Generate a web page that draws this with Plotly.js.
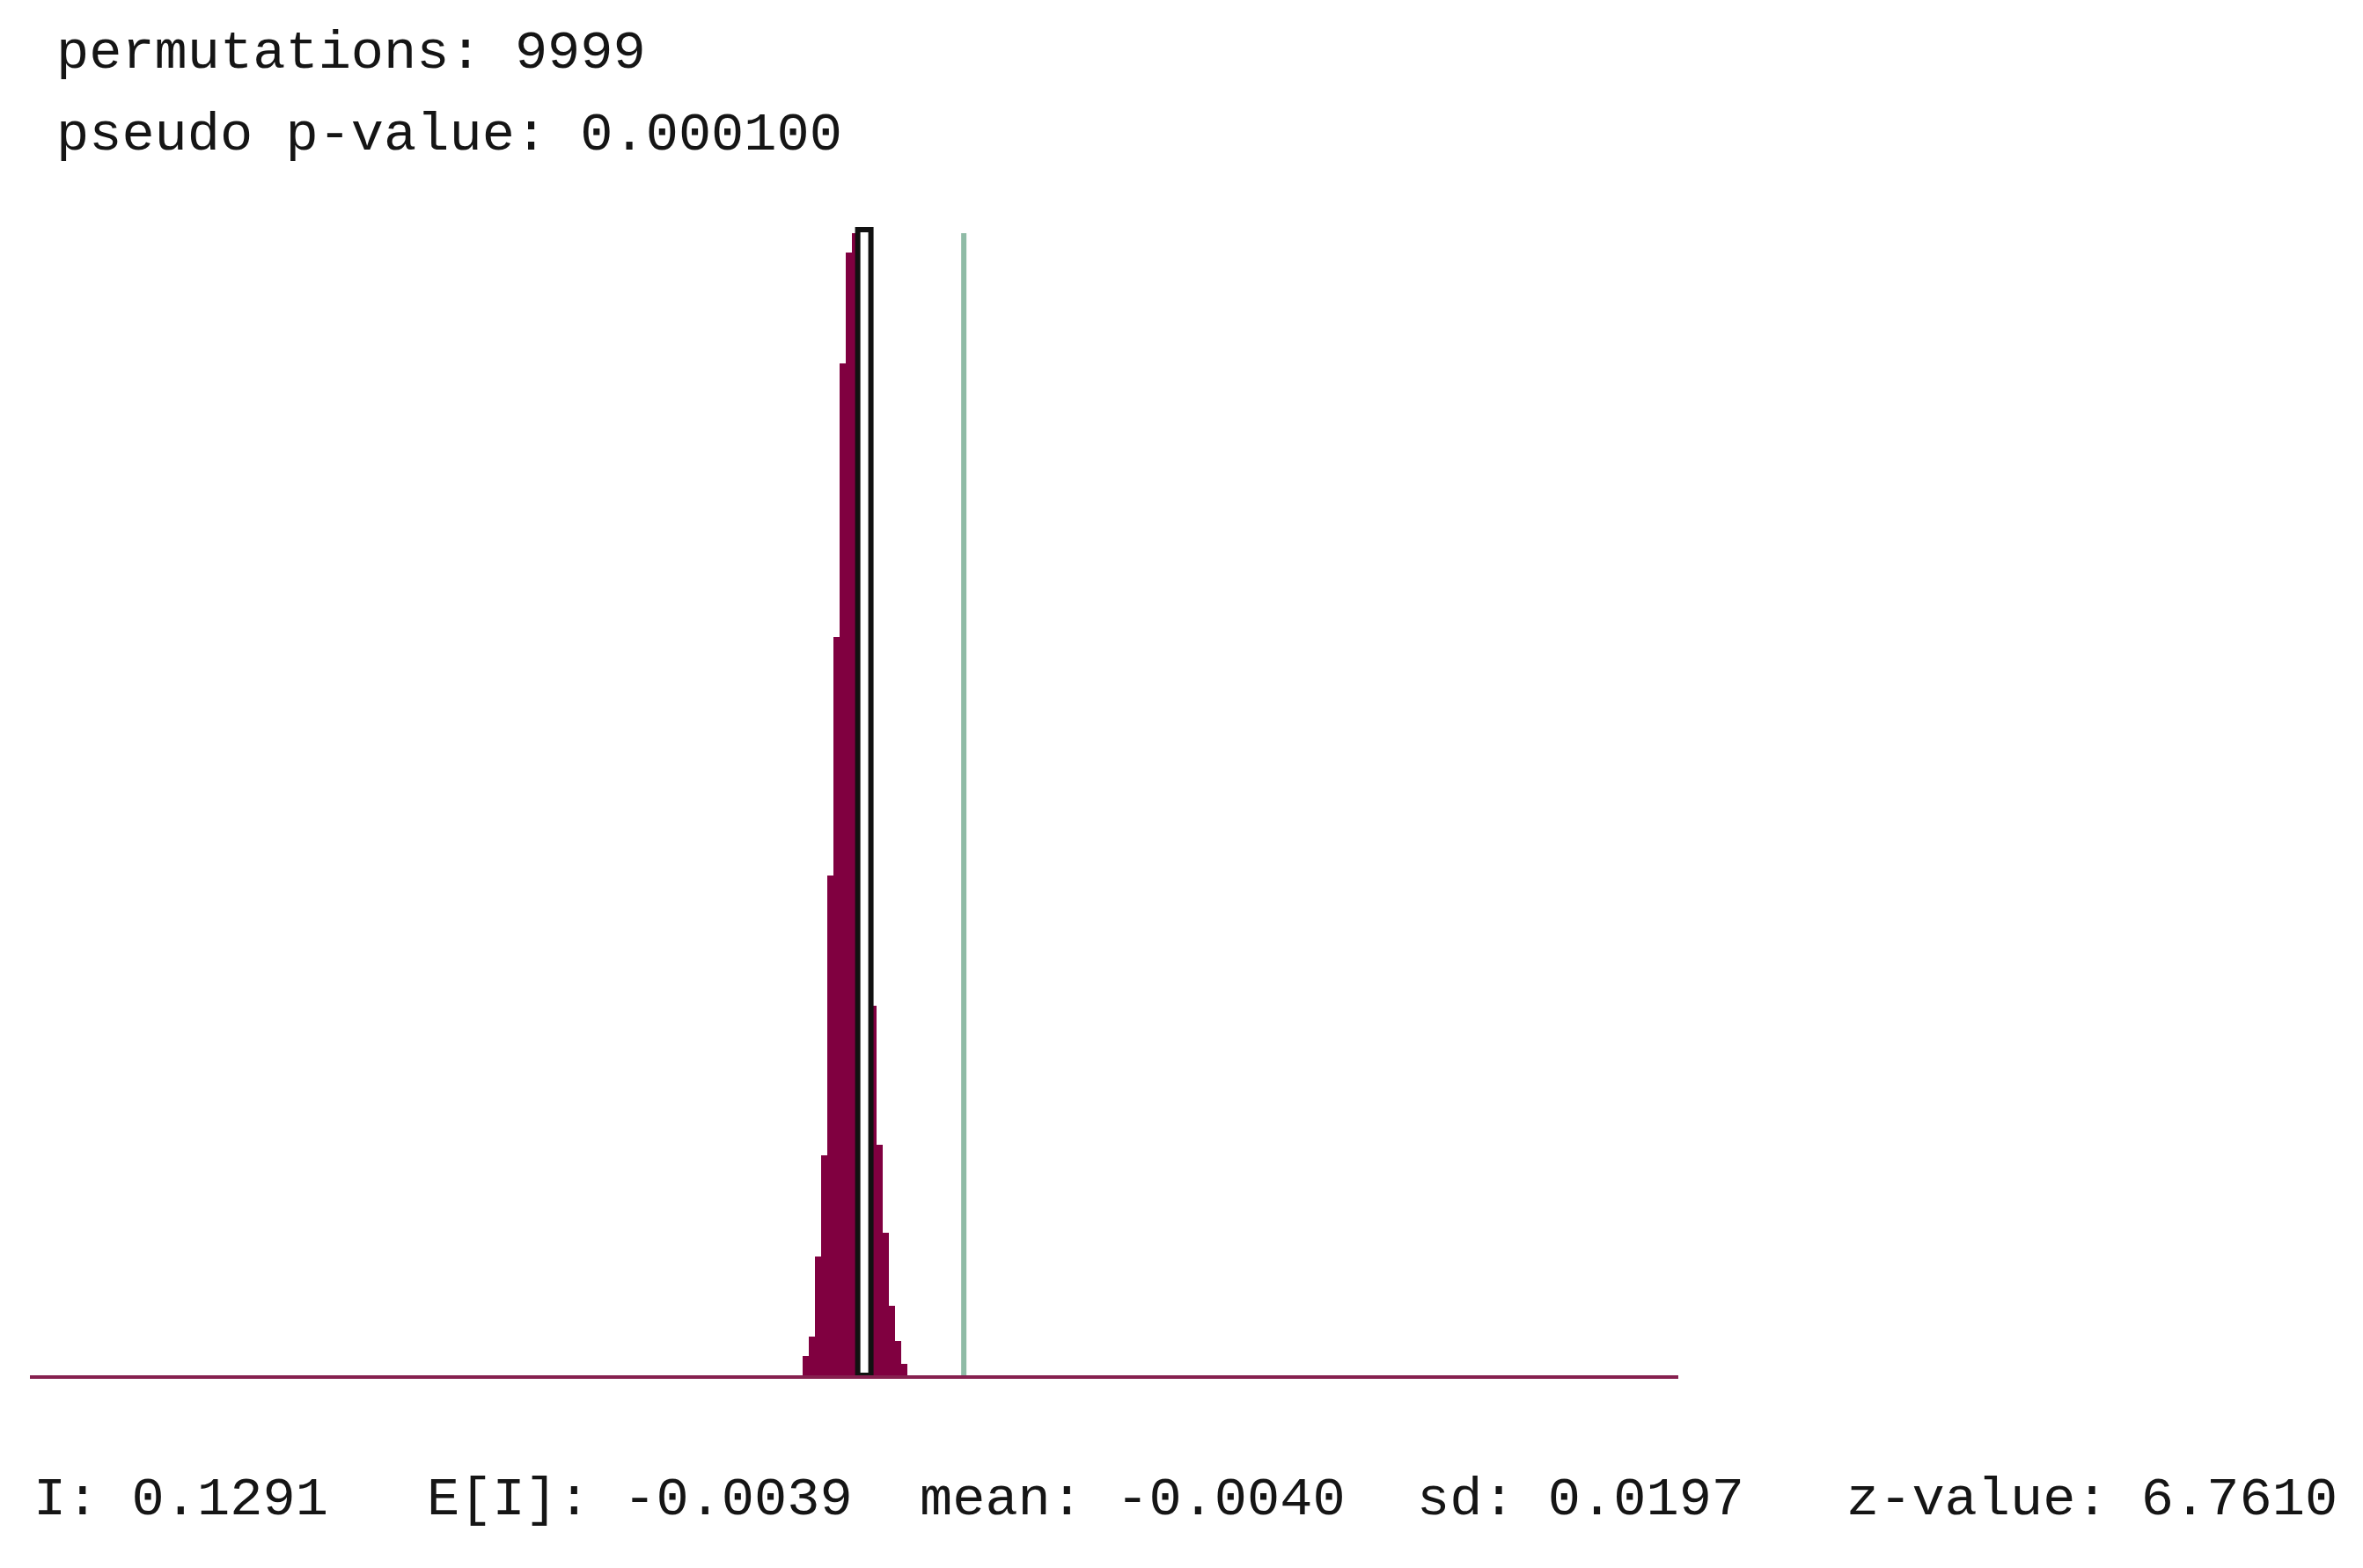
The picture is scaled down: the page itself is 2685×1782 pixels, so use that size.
<!DOCTYPE html>
<html>
<head>
<meta charset="utf-8">
<script src="https://cdn.plot.ly/plotly-3.0.1.min.js"></script>
<style>
  html, body { margin: 0; padding: 0; background: #fff; }
  #plot { width: 2685px; height: 1782px; }
</style>
</head>
<body>
<div id="plot"></div>
<script>
// permutation histogram (Moran's I, 9999 permutations)
let binCenters = [-0.0822, -0.0740, -0.0658, -0.0575, -0.0493, -0.0411, -0.0328, -0.0246, -0.0164,
                  -0.0081, 0.0001, 0.0084, 0.0166, 0.0248, 0.0331, 0.0413, 0.0495];
let binCounts = [24, 48, 148, 274, 623, 921, 1262, 1401, 1425,
                 1429, 1372, 461, 288, 178, 87, 43, 14];

let observedI = 0.1291;
let expectedI = -0.0039;
let permMean = -0.0040;
let permSd = 0.0197;
let zValue = 6.7610;
let permutations = 9999;
let pseudoP = 0.000100;

// page geometry (pixels)
const W = 2685, H = 1782;
const ml = 34, mr = W - 1907, mt = 251, mb = H - 1563;
const pw = W - ml - mr, ph = H - mt - mb;

function px(x){ return (x - ml) / pw; }
function py(y){ return (H - mb - y) / ph; }

const txtFont = { family: "Liberation Mono, DejaVu Sans Mono, monospace", size: 62, color: "#151515" };

const bars = {
  x: binCenters,
  y: binCounts,
  type: 'bar',
  marker: { color: '#800040', line: { width: 0 } },
  hoverinfo: 'skip'
};

// outlined bin at E[I]
const eBar = {
  x: [expectedI],
  y: [Math.max(...binCounts)],
  type: 'bar',
  width: [0.0176],
  marker: { color: '#ffffff', line: { color: '#111111', width: 6 } },
  hoverinfo: 'skip'
};

function label(text, x, y){
  return { text: text, xref: 'paper', yref: 'paper', x: px(x), y: py(y),
           xanchor: 'left', yanchor: 'middle', showarrow: false, font: txtFont };
}

const annotations = [
  label('permutations: ' + permutations, 62, 60),
  label('pseudo p-value: ' + pseudoP.toFixed(6), 62, 153),
  label('I: ' + observedI.toFixed(4), 36, 1704),
  label('E[I]: ' + expectedI.toFixed(4), 483, 1704),
  label('mean: ' + permMean.toFixed(4), 1043, 1704),
  label('sd: ' + permSd.toFixed(4), 1608, 1704),
  label('z-value: ' + zValue.toFixed(4), 2096, 1704)
];

const layout = {
  width: W,
  height: H,
  margin: { l: ml, r: mr, t: mt, b: mb, pad: 0 },
  paper_bgcolor: '#ffffff',
  plot_bgcolor: '#ffffff',
  showlegend: false,
  barmode: 'overlay',
  bargap: 0,
  xaxis: {
    range: [-1.1193, 1.0842],
    showline: true, linecolor: '#86204f', linewidth: 4,
    showgrid: false, zeroline: false, showticklabels: false, ticks: ''
  },
  yaxis: {
    range: [0, 1440],
    showline: false, showgrid: false, zeroline: false, showticklabels: false, ticks: ''
  },
  shapes: [{
    type: 'line', xref: 'x', yref: 'paper',
    x0: observedI, x1: observedI, y0: 0, y1: py(265),
    line: { color: '#8fbba6', width: 6 }
  }],
  annotations: annotations
};

Plotly.newPlot('plot', [bars, eBar], layout, { staticPlot: true });
</script>
</body>
</html>
